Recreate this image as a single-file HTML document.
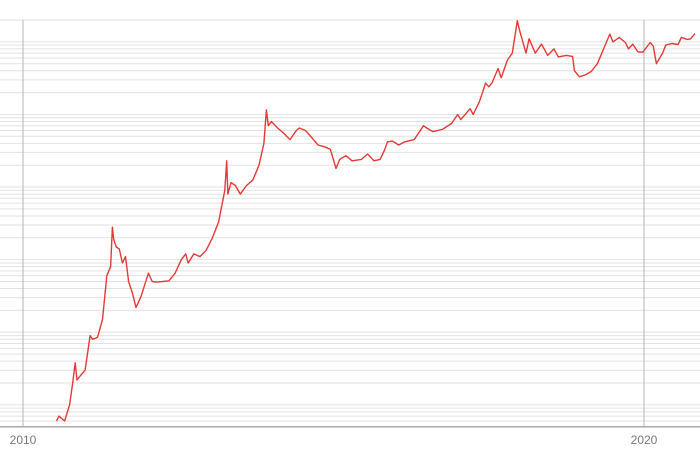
<!DOCTYPE html>
<html><head><meta charset="utf-8"><style>
html,body{margin:0;padding:0;background:#fff}
svg{display:block}
text{font-family:"Liberation Sans",sans-serif}
</style></head><body>
<svg id="chart" width="700" height="454" viewBox="0 0 700 454"></svg>
<script>
const xTickLabels = ["2010","2020"];
const xTickYears = [2010,2020];
const dates = [2010.54,2010.58,2010.62,2010.67,2010.75,2010.80,2010.84,2010.87,2010.92,2011.00,2011.08,2011.12,2011.2,2011.28,2011.35,2011.41,2011.44,2011.46,2011.5,2011.55,2011.6,2011.65,2011.7,2011.76,2011.82,2011.86,2011.9,2011.96,2012.02,2012.08,2012.15,2012.25,2012.35,2012.45,2012.55,2012.62,2012.66,2012.75,2012.85,2012.95,2013.05,2013.15,2013.25,2013.28,2013.3,2013.35,2013.42,2013.5,2013.6,2013.7,2013.8,2013.88,2013.92,2013.95,2014.0,2014.1,2014.2,2014.3,2014.4,2014.45,2014.55,2014.65,2014.75,2014.85,2014.95,2015.04,2015.1,2015.2,2015.3,2015.45,2015.55,2015.65,2015.75,2015.82,2015.87,2015.95,2016.05,2016.15,2016.3,2016.45,2016.5,2016.6,2016.75,2016.9,2017.0,2017.05,2017.2,2017.25,2017.35,2017.45,2017.5,2017.55,2017.65,2017.7,2017.8,2017.88,2017.96,2018.0,2018.1,2018.15,2018.25,2018.35,2018.45,2018.55,2018.62,2018.75,2018.85,2018.88,2018.96,2019.05,2019.15,2019.25,2019.35,2019.45,2019.5,2019.6,2019.7,2019.75,2019.82,2019.9,2019.98,2020.1,2020.15,2020.2,2020.3,2020.35,2020.45,2020.55,2020.6,2020.7,2020.75,2020.82];
const prices = [0.06,0.07,0.065,0.06,0.1,0.2,0.38,0.22,0.25,0.3,0.9,0.8,0.85,1.5,6,8,28,19,15,14,9,11,5,3.5,2.2,2.6,3.1,4.5,6.5,5,4.9,5,5.1,6.5,10,12,9,12,11,13.5,20,33,90,230,80,115,105,80,105,125,200,400,1150,700,800,650,550,450,600,650,600,480,380,360,330,180,240,270,230,240,285,230,240,320,420,430,380,420,450,700,650,580,620,750,1000,850,1200,1000,1500,2700,2400,2700,4300,3200,5600,7000,19500,14000,7000,11000,7000,9300,6500,8000,6200,6500,6300,4000,3300,3500,3900,5000,8000,12800,10000,11500,9800,8000,9300,7300,7200,9800,8700,5000,7000,9000,9500,9200,11500,10800,11000,13000];

const NS='http://www.w3.org/2000/svg';
const svg=document.getElementById('chart');
const yMin=0.05,yMax=20000,yTop=20,yBot=426.7;
const x0=23,pxPerYear=62.1;
function xScale(t){return x0+(t-2010)*pxPerYear;}
function yScale(v){return yBot-(Math.log10(v)-Math.log10(yMin))/(Math.log10(yMax)-Math.log10(yMin))*(yBot-yTop);}
function mk(tag,attrs){const e=document.createElementNS(NS,tag);for(const k in attrs)e.setAttribute(k,attrs[k]);svg.appendChild(e);return e;}

for(let n=-2;n<=4;n++){for(let k=1;k<=9;k++){const v=k*Math.pow(10,n);
  if(v<yMin*1.0001||v>yMax*1.0001)continue;
  const y=yScale(v);
  const l=mk('line',{x1:0,x2:700,y1:y,y2:y,stroke:'#e2e2e2','stroke-width':1});
  
  
}}
xTickYears.forEach((yr,i)=>{
  const x=xScale(yr);
  const l=mk('line',{x1:x,x2:x,y1:yTop,y2:yBot,stroke:'#b5b5b5','stroke-width':1});
  
  
  const t=mk('text',{x:x,y:444,'text-anchor':'middle','font-size':12,fill:'#777'});
  t.textContent=xTickLabels[i];
  
  
});
const ax=mk('line',{x1:0,x2:700,y1:yBot,y2:yBot,stroke:'#aaa','stroke-width':1.5});


const pts=dates.map((d,i)=>xScale(d).toFixed(1)+','+yScale(prices[i]).toFixed(1)).join(' ');
const line=mk('polyline',{points:pts,fill:'none',stroke:'#e53935','stroke-width':1.4,'stroke-linejoin':'round'});


</script>
</body></html>
